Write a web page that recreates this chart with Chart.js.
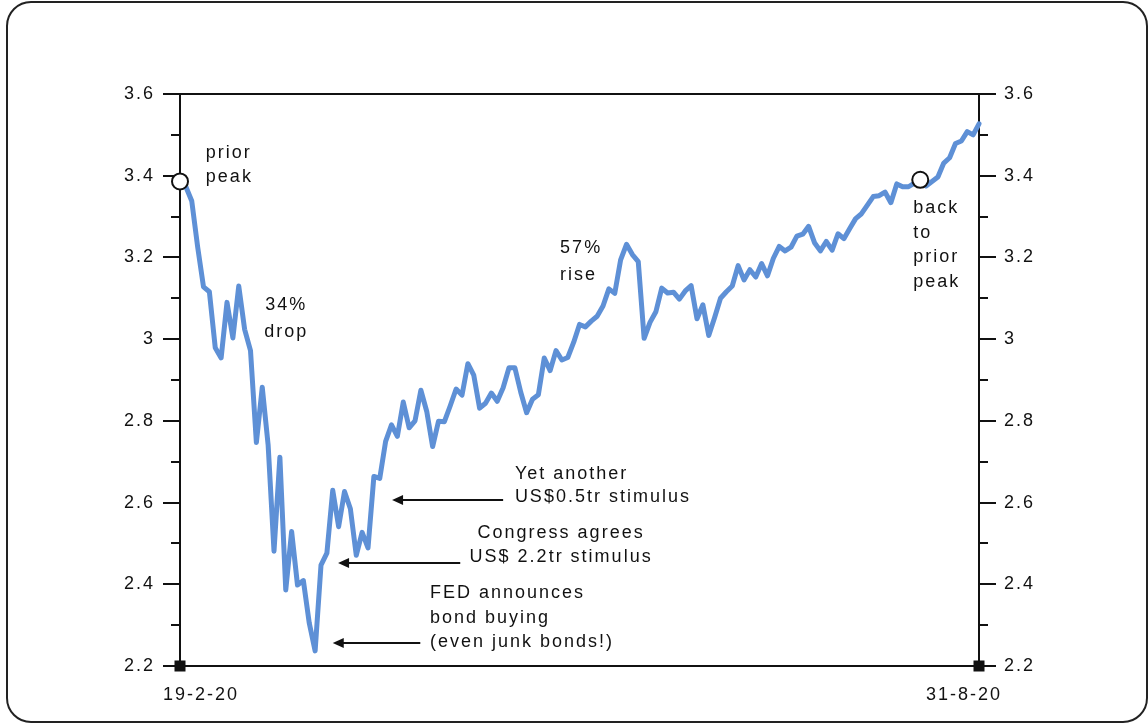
<!DOCTYPE html>
<html>
<head>
<meta charset="utf-8">
<script src="https://cdn.jsdelivr.net/npm/chart.js@4.4.1/dist/chart.umd.min.js"></script>
<style>
  html, body { margin: 0; padding: 0; background: #fff; }
  #wrap { width: 1148px; height: 724px; position: relative; }
</style>
</head>
<body>
<div id="wrap"><canvas id="c" width="1148" height="724"></canvas></div>
<script>
// S&P 500 level (thousands), daily closes
const values = [
  3.386, 3.373, 3.338, 3.226, 3.128, 3.116, 2.979, 2.954,
  3.090, 3.003, 3.130, 3.024, 2.972, 2.747, 2.882, 2.741, 2.481, 2.711,
  2.386, 2.529, 2.398, 2.409, 2.305, 2.237, 2.447, 2.476, 2.630, 2.541,
  2.627, 2.585,
  2.471, 2.527, 2.489, 2.664, 2.659, 2.750, 2.790, 2.762, 2.846, 2.783,
  2.800, 2.875, 2.823, 2.737, 2.799, 2.798, 2.837, 2.878, 2.863, 2.940,
  2.912,
  2.831, 2.843, 2.868, 2.848, 2.881, 2.930, 2.930, 2.870, 2.820, 2.853,
  2.864, 2.954, 2.923, 2.972, 2.949, 2.955, 2.992, 3.036, 3.030, 3.044,
  3.056, 3.081, 3.123, 3.112, 3.194, 3.232, 3.207, 3.190, 3.002, 3.041,
  3.067, 3.125, 3.113, 3.115, 3.098, 3.118, 3.131, 3.050, 3.084, 3.009,
  3.053, 3.100,
  3.116, 3.130, 3.180, 3.145, 3.170, 3.152, 3.185, 3.155, 3.198, 3.227,
  3.216, 3.225, 3.252, 3.257, 3.276, 3.236, 3.216, 3.239, 3.218, 3.258,
  3.246, 3.271,
  3.295, 3.307, 3.328, 3.349, 3.351, 3.360, 3.334, 3.380, 3.373, 3.373,
  3.382, 3.390, 3.375, 3.386, 3.397, 3.431, 3.444, 3.479, 3.485, 3.508,
  3.500, 3.527
];
const markerIndexes = [0, 126];           // "prior peak" and "back to prior peak"
const yTickLabels = ['2.2', '2.4', '2.6', '2.8', '3', '3.2', '3.4', '3.6'];
const xTickLabels = ['19-2-20', '31-8-20'];
const noteTexts = [
  ['prior', 'peak'],
  ['34%', 'drop'],
  ['57%', 'rise'],
  ['back', 'to', 'prior', 'peak'],
  ['Yet another', 'US$0.5tr stimulus'],
  ['Congress agrees', 'US$ 2.2tr stimulus'],
  ['FED announces', 'bond buying', '(even junk bonds!)']
];

// placement of the notes in data units (index, value)
const notePlaces = [
  { i: 4.4,  v: 3.443, align: 'left',   lh: 24 },
  { i: 17.9, v: 3.071, align: 'center', lh: 27 },
  { i: 64.7, v: 3.211, align: 'left',   lh: 27 },
  { i: 124.8, v: 3.309, align: 'left',  lh: 24.7 },
  { i: 57.0, v: 2.658, align: 'left',   lh: 23 },
  { i: 64.7, v: 2.513, align: 'center', lh: 24 },
  { i: 42.55, v: 2.366, align: 'left',  lh: 24.5 }
];
const arrowPlaces = [
  { from: 55.0, to: 36.1, v: 2.606 },
  { from: 47.7, to: 26.9, v: 2.452 },
  { from: 40.9, to: 26.0, v: 2.256 }
];

const FONT = '"Liberation Sans", Arial, Helvetica, sans-serif';
const INK = '#111';

const decor = {
  id: 'decor',
  beforeDraw(chart) {
    const ctx = chart.ctx;
    ctx.save();
    ctx.fillStyle = '#fff';
    ctx.fillRect(0, 0, chart.width, chart.height);
    ctx.strokeStyle = '#222';
    ctx.lineWidth = 2;
    ctx.beginPath();
    ctx.roundRect(7, 2, 1140, 720, 24);
    ctx.stroke();
    ctx.restore();
    ctx.letterSpacing = '2px';
  },
  beforeDatasetsDraw(chart) {
    const ctx = chart.ctx;
    const a = chart.chartArea;
    const y = chart.scales.y;
    ctx.save();
    ctx.strokeStyle = INK;
    ctx.lineWidth = 2;
    ctx.beginPath();
    ctx.rect(a.left, a.top, a.right - a.left, a.bottom - a.top);
    ctx.stroke();
    ctx.lineWidth = 1.8;
    for (let k = 0; k <= 14; k++) {
      const val = 2.2 + k * 0.1;
      const py = Math.round(y.getPixelForValue(val));
      const len = (k % 2 === 0) ? 17 : 9;
      ctx.beginPath();
      ctx.moveTo(a.left - len, py);
      ctx.lineTo(a.left, py);
      ctx.moveTo(a.right, py);
      ctx.lineTo(a.right + len, py);
      ctx.stroke();
    }
    ctx.restore();
  },
  afterDatasetsDraw(chart) {
    const ctx = chart.ctx;
    const x = chart.scales.x;
    const a = chart.chartArea;
    ctx.save();
    ctx.fillStyle = INK;
    const ends = [0, values.length - 1];
    ends.forEach(idx => {
      const px = x.getPixelForValue(idx);
      ctx.fillRect(px - 5.5, a.bottom - 5.5, 11, 11);
    });
    // x tick labels
    ctx.font = '18px ' + FONT;
    ctx.textBaseline = 'alphabetic';
    ctx.textAlign = 'left';
    ctx.fillText(xTickLabels[0], x.getPixelForValue(0) - 17, a.bottom + 34);
    ctx.textAlign = 'right';
    ctx.fillText(xTickLabels[1], x.getPixelForValue(values.length - 1) + 23, a.bottom + 34);
    ctx.restore();
  },
  afterDraw(chart) {
    const ctx = chart.ctx;
    const x = chart.scales.x, y = chart.scales.y;
    ctx.save();
    ctx.fillStyle = INK;
    ctx.font = '18px ' + FONT;
    ctx.textBaseline = 'alphabetic';
    noteTexts.forEach((lines, n) => {
      const p = notePlaces[n];
      const px = x.getPixelForValue(p.i);
      const py = y.getPixelForValue(p.v);
      ctx.textAlign = p.align;
      lines.forEach((t, k) => ctx.fillText(t, px + (p.align === 'center' ? 1 : 0), py + k * p.lh));
    });
    ctx.strokeStyle = INK;
    ctx.lineWidth = 2;
    arrowPlaces.forEach(ar => {
      const x1 = x.getPixelForValue(ar.from);
      const x0 = x.getPixelForValue(ar.to);
      const py = y.getPixelForValue(ar.v);
      ctx.beginPath();
      ctx.moveTo(x1, py);
      ctx.lineTo(x0 + 8, py);
      ctx.stroke();
      ctx.beginPath();
      ctx.moveTo(x0, py);
      ctx.lineTo(x0 + 11, py - 5);
      ctx.lineTo(x0 + 11, py + 5);
      ctx.closePath();
      ctx.fill();
    });
    ctx.restore();
  }
};

const yTick = (v) => {
  const key = (Math.round(v * 10) / 10).toString();
  return yTickLabels.includes(key) ? key : '';
};

new Chart(document.getElementById('c'), {
  type: 'line',
  data: {
    labels: values.map((_, i) => i),
    datasets: [
      {
        data: values.map((v, i) => markerIndexes.includes(i) ? v : null),
        showLine: false,
        pointRadius: 8,
        pointBorderWidth: 2,
        pointBackgroundColor: '#fff',
        pointBorderColor: INK,
        clip: false,
        order: 0
      },
      {
        data: values,
        borderColor: '#5e90d6',
        borderWidth: 5,
        pointRadius: 0,
        tension: 0,
        borderJoinStyle: 'round',
        borderCapStyle: 'round',
        clip: false,
        order: 1
      }
    ]
  },
  options: {
    responsive: false,
    animation: false,
    devicePixelRatio: 1,
    layout: { padding: { top: 94, left: 0, right: 0, bottom: 0 } },
    plugins: { legend: { display: false }, tooltip: { enabled: false } },
    scales: {
      x: {
        type: 'category',
        offset: false,
        ticks: { display: false },
        grid: { display: false, drawTicks: false },
        border: { display: false },
        afterFit: s => { s.height = 58; }
      },
      y: {
        position: 'left',
        min: 2.2, max: 3.6,
        ticks: { stepSize: 0.2, callback: yTick, color: INK, padding: 25, font: { family: FONT, size: 18 } },
        grid: { display: false, drawTicks: false },
        border: { display: false },
        afterFit: s => { s.width = 180; }
      },
      y2: {
        position: 'right',
        min: 2.2, max: 3.6,
        ticks: { stepSize: 0.2, callback: yTick, color: INK, padding: 25, font: { family: FONT, size: 18 } },
        grid: { display: false, drawTicks: false },
        border: { display: false },
        afterFit: s => { s.width = 1148 - 979; }
      }
    }
  },
  plugins: [decor]
});
</script>
</body>
</html>
